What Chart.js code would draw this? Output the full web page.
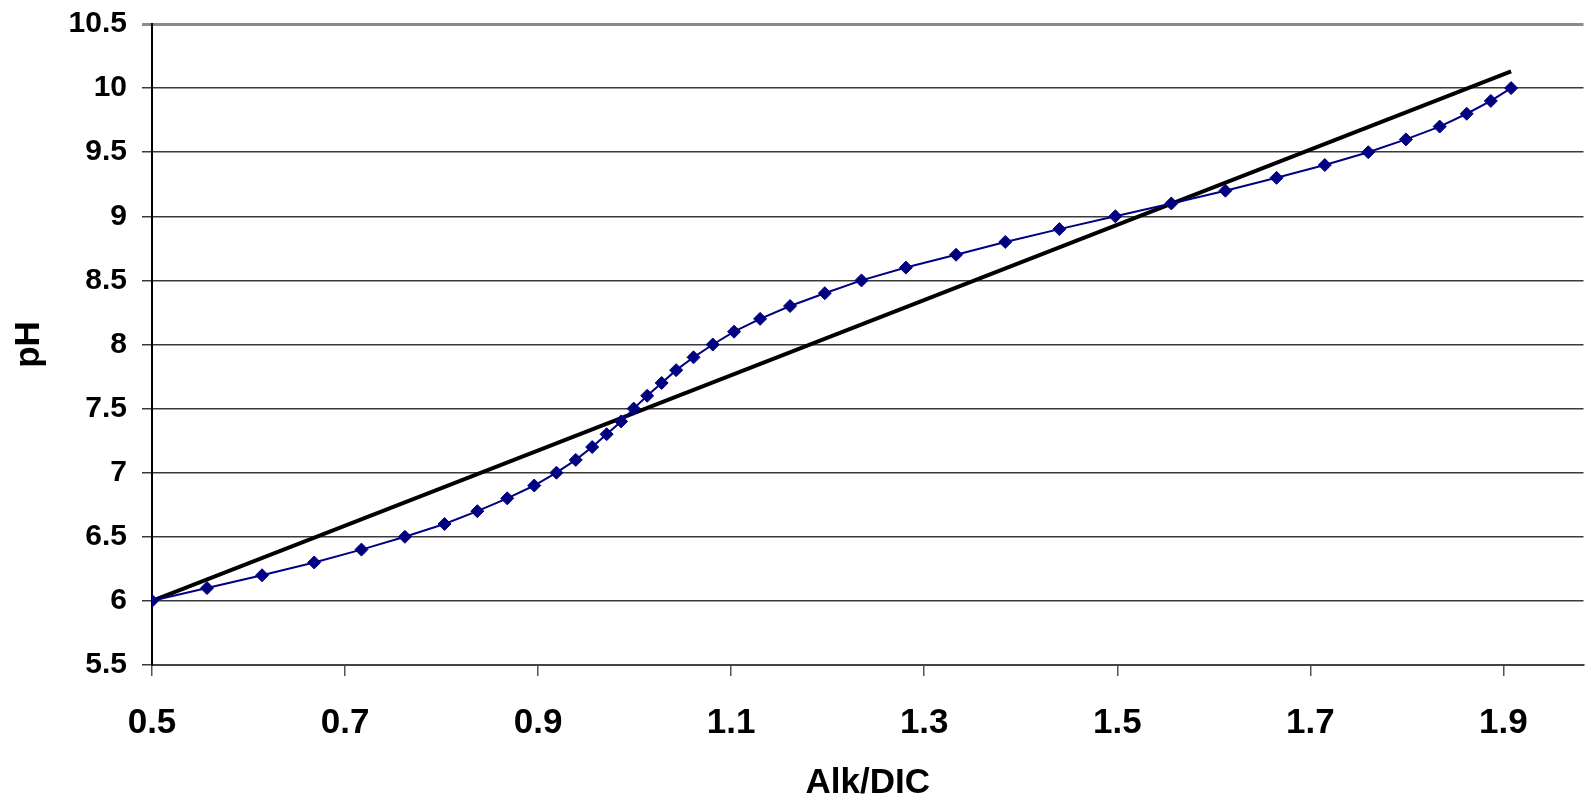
<!DOCTYPE html>
<html>
<head>
<meta charset="utf-8">
<script src="https://cdn.jsdelivr.net/npm/chart.js@4"></script>
<style>
  html, body { margin: 0; padding: 0; background: #fff; }
  #wrap { width: 1591px; height: 801px; }
</style>
</head>
<body>
<div id="wrap"><canvas id="chart-ph" width="1591" height="801"></canvas></div>
<script>
// pH vs Alk/DIC
const phValues = [
  6.0, 6.1, 6.2, 6.3, 6.4, 6.5, 6.6, 6.7, 6.8, 6.9,
  7.0, 7.1, 7.2, 7.3, 7.4, 7.5, 7.6, 7.7, 7.8, 7.9,
  8.0, 8.1, 8.2, 8.3, 8.4, 8.5, 8.6, 8.7, 8.8, 8.9,
  9.0, 9.1, 9.2, 9.3, 9.4, 9.5, 9.6, 9.7, 9.8, 9.9, 10.0
];
const alkDic = [
  0.500, 0.557, 0.614, 0.668, 0.717, 0.762, 0.803, 0.837, 0.868, 0.896,
  0.919, 0.939, 0.956, 0.971, 0.986, 0.999, 1.013, 1.028, 1.043, 1.061,
  1.081, 1.103, 1.130, 1.161, 1.197, 1.235, 1.281, 1.333, 1.384, 1.440,
  1.498, 1.556, 1.612, 1.665, 1.715, 1.760, 1.799, 1.834, 1.862, 1.887, 1.908
];
// straight fit line, two end points
const fitX = [0.500, 1.908];
const fitY = [6.00, 10.13];

const xTicks = [0.5, 0.7, 0.9, 1.1, 1.3, 1.5, 1.7, 1.9];
const yTicks = [5.5, 6, 6.5, 7, 7.5, 8, 8.5, 9, 9.5, 10, 10.5];

const FONT = '"Liberation Sans", Arial, sans-serif';

new Chart(document.getElementById('chart-ph'), {
  type: 'scatter',
  data: {
    datasets: [
      {
        data: alkDic.map((x, i) => ({ x: x, y: phValues[i] })),
        showLine: true,
        borderColor: '#000080',
        borderWidth: 2,
        pointStyle: 'rectRot',
        pointRadius: 6.5,
        pointBackgroundColor: '#000080',
        pointBorderColor: '#000080',
        pointBorderWidth: 1,
        fill: false,
      },
      {
        data: fitX.map((x, i) => ({ x: x, y: fitY[i] })),
        showLine: true,
        borderColor: '#000',
        borderWidth: 4,
        pointRadius: 0,
        fill: false,
      }
    ]
  },
  options: {
    responsive: false,
    animation: false,
    layout: { padding: { top: 24, right: 0, left: 0, bottom: 0 } },
    plugins: { legend: { display: false }, tooltip: { enabled: false } },
    scales: {
      x: {
        type: 'linear',
        min: 0.5,
        max: 1.983,
        afterBuildTicks: s => { s.ticks = xTicks.map(v => ({ value: v })); },
        afterFit: s => { s.height = 136; s.paddingLeft = 0; s.paddingRight = 0; },
        ticks: {
          color: '#000',
          font: { family: FONT, size: 35, weight: 'bold' },
          padding: 26,
          maxRotation: 0,
          callback: v => v.toFixed(1),
        },
        grid: { drawOnChartArea: false, drawTicks: true, tickLength: 11, color: '#555', lineWidth: 1.5 },
        border: { color: '#444', width: 2 },
        title: {
          display: true,
          text: 'Alk/DIC',
          color: '#000',
          font: { family: FONT, size: 35, weight: 'bold', lineHeight: 1 },
          padding: { top: 0, bottom: 0 },
        }
      },
      y: {
        type: 'linear',
        min: 5.5,
        max: 10.5,
        afterBuildTicks: s => { s.ticks = yTicks.map(v => ({ value: v })); },
        afterFit: s => { s.width = 152; s.paddingTop = 0; s.paddingBottom = 0; },
        ticks: {
          color: '#000',
          font: { family: FONT, size: 30, weight: 'bold' },
          padding: 15,
          callback: v => String(v),
        },
        grid: {
          drawTicks: true,
          tickLength: 10,
          color: c => (c.tick && c.tick.value === 10.5 ? '#8a8a8a' : '#3a3a3a'),
          lineWidth: c => (c.tick && c.tick.value === 10.5 ? 3 : 1.5),
        },
        border: { color: '#000', width: 2 },
        title: {
          display: true,
          text: 'pH',
          color: '#000',
          font: { family: FONT, size: 35, weight: 'bold' },
          padding: { top: 8, bottom: 0 },
        }
      }
    }
  }
});
</script>
</body>
</html>
